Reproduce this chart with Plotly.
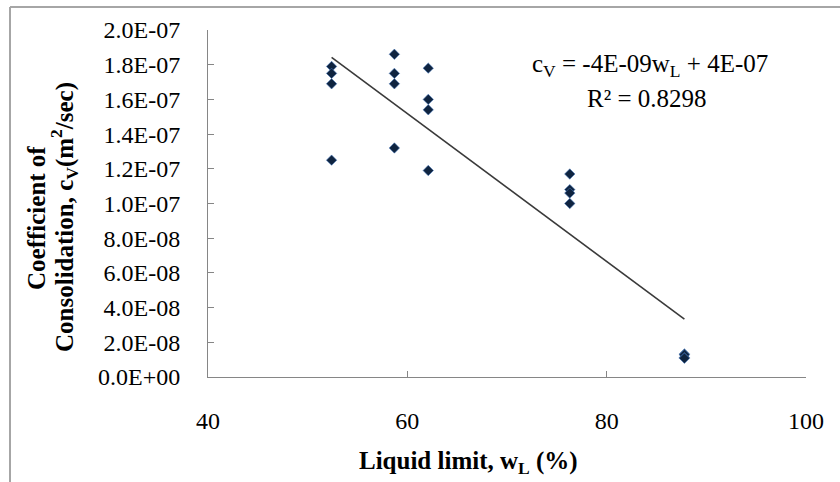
import numpy as np
import plotly.graph_objects as go

# Data (liquid limit %, cv m2/sec)
liquid_limit = [52.4, 52.4, 52.4, 52.4,
                58.7, 58.7, 58.7, 58.7,
                62.1, 62.1, 62.1, 62.1,
                76.3, 76.3, 76.3, 76.3,
                87.8, 87.8, 87.8, 87.8]
cv = [1.79e-7, 1.75e-7, 1.69e-7, 1.25e-7,
      1.86e-7, 1.75e-7, 1.69e-7, 1.32e-7,
      1.78e-7, 1.60e-7, 1.54e-7, 1.19e-7,
      1.17e-7, 1.08e-7, 1.06e-7, 1.00e-7,
      1.33e-8, 1.28e-8, 1.12e-8, 1.08e-8]

x_ticks = [40, 60, 80, 100]
y_tick_vals = [0, 2e-8, 4e-8, 6e-8, 8e-8, 1e-7, 1.2e-7, 1.4e-7, 1.6e-7, 1.8e-7, 2e-7]
y_tick_labels = ["0.0E+00", "2.0E-08", "4.0E-08", "6.0E-08", "8.0E-08", "1.0E-07",
                 "1.2E-07", "1.4E-07", "1.6E-07", "1.8E-07", "2.0E-07"]

eq_text = "c<sub>V</sub> = -4E-09w<sub>L</sub> + 4E-07"
r2_text = "R² = 0.8298"

x_arr = np.array(liquid_limit)
y_arr = np.array(cv)
slope, intercept = np.polyfit(x_arr, y_arr, 1)
trend_x = [x_arr.min(), x_arr.max()]
trend_y = [slope * v + intercept for v in trend_x]

FONT = "Liberation Serif"
fs_tick = 24
fs_text = 25

fig = go.Figure()
fig.add_trace(go.Scatter(
    x=trend_x, y=trend_y, mode="lines",
    line=dict(color="#3a3a3a", width=1.6), hoverinfo="skip", showlegend=False))
fig.add_trace(go.Scatter(
    x=liquid_limit, y=cv, mode="markers",
    marker=dict(symbol="diamond", size=8, color="#0f2440",
                line=dict(color="rgba(70,120,190,0.55)", width=1)),
    showlegend=False))

fig.update_layout(
    width=840, height=482,
    margin=dict(l=208, r=34, t=30, b=105),
    paper_bgcolor="white", plot_bgcolor="white",
    font=dict(family=FONT, size=fs_tick, color="black"),
    xaxis=dict(range=[40, 100], tickvals=x_ticks, ticktext=[str(t) for t in x_ticks],
               showgrid=False, zeroline=False, showline=True, linecolor="#868686",
               linewidth=1, ticks="inside", ticklen=6, tickcolor="#868686",
               ticklabelstandoff=22, tickfont=dict(family=FONT, size=fs_tick)),
    yaxis=dict(range=[0, 2e-7], tickvals=y_tick_vals, ticktext=y_tick_labels,
               showgrid=False, zeroline=False, showline=True, linecolor="#868686",
               linewidth=1, ticks="inside", ticklen=6, tickcolor="#868686",
               ticklabelstandoff=22, tickfont=dict(family=FONT, size=fs_tick)),
    shapes=[
        dict(type="line", xref="paper", yref="paper",
             x0=(10 - 208) / 598, x1=(840 - 208) / 598,
             y0=(377 - 7) / 347, y1=(377 - 7) / 347,
             line=dict(color="#a6a6a6", width=2)),
        dict(type="line", xref="paper", yref="paper",
             x0=(10 - 208) / 598, x1=(10 - 208) / 598,
             y0=(377 - 7) / 347, y1=(377 - 482) / 347,
             line=dict(color="#a6a6a6", width=2)),
    ],
    annotations=[
        dict(text="<b>Liquid limit, w<sub>L</sub> (%)</b>", xref="paper", yref="paper",
             x=(468 - 208) / 598, y=(377 - 462) / 347, showarrow=False,
             font=dict(family=FONT, size=fs_text), xanchor="center", yanchor="middle"),
        dict(text="<b>Coefficient of</b>", xref="paper", yref="paper",
             x=(37 - 208) / 598, y=(377 - 218) / 347, textangle=-90, showarrow=False,
             font=dict(family=FONT, size=fs_text), xanchor="center", yanchor="middle"),
        dict(text="<b>Consolidation, c<sub>V</sub>(m<sup>2</sup>/sec)</b>", xref="paper", yref="paper",
             x=(64 - 208) / 598, y=(377 - 217) / 347, textangle=-90, showarrow=False,
             font=dict(family=FONT, size=fs_text), xanchor="center", yanchor="middle"),
        dict(text=eq_text, xref="paper", yref="paper",
             x=(650 - 208) / 598, y=(377 - 65) / 347, showarrow=False,
             font=dict(family=FONT, size=fs_text), xanchor="center", yanchor="middle"),
        dict(text=r2_text, xref="paper", yref="paper",
             x=(647 - 208) / 598, y=(377 - 98) / 347, showarrow=False,
             font=dict(family=FONT, size=fs_text), xanchor="center", yanchor="middle"),
    ],
)

fig.write_html("out.html", config={"displayModeBar": False},
               post_script="document.body.style.margin='0';")
